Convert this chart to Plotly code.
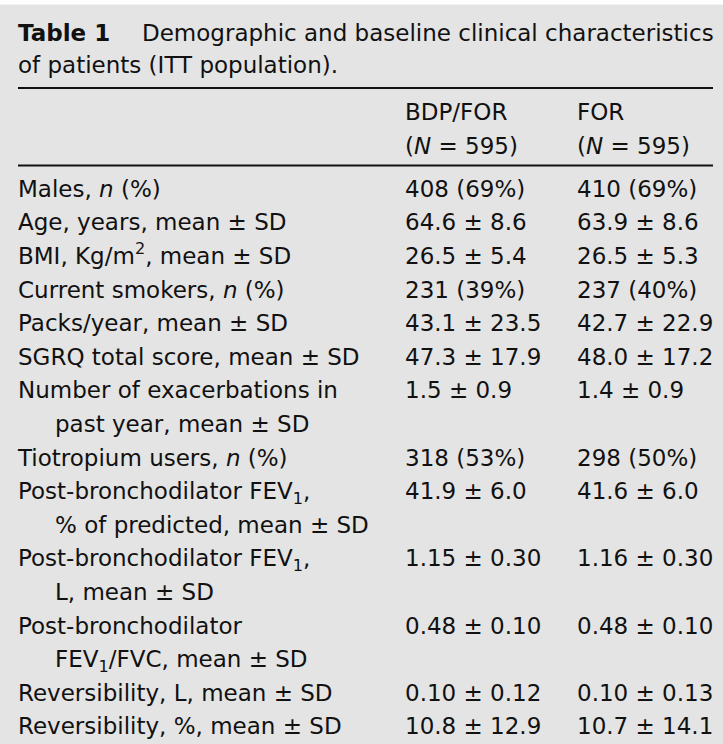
import plotly.graph_objects as go

# ---- data -------------------------------------------------------------
title_label = "Table 1"
title_text = "Demographic and baseline clinical characteristics"
title_line2 = "of patients (ITT population)."

group_names = ["BDP/FOR", "FOR"]
group_n = [595, 595]

# each characteristic: (first line, continuation line or None)
characteristics = [
    ("Males, <i>n</i> (%)", None),
    ("Age, years, mean ± SD", None),
    ("BMI, Kg/m<sup>2</sup>, mean ± SD", None),
    ("Current smokers, <i>n</i> (%)", None),
    ("Packs/year, mean ± SD", None),
    ("SGRQ total score, mean ± SD", None),
    ("Number of exacerbations in", "past year, mean ± SD"),
    ("Tiotropium users, <i>n</i> (%)", None),
    ("Post-bronchodilator FEV<sub>1</sub>,", "% of predicted, mean ± SD"),
    ("Post-bronchodilator FEV<sub>1</sub>,", "L, mean ± SD"),
    ("Post-bronchodilator", "FEV<sub>1</sub>/FVC, mean ± SD"),
    ("Reversibility, L, mean ± SD", None),
    ("Reversibility, %, mean ± SD", None),
]

bdp_for_values = ["408 (69%)", "64.6 ± 8.6", "26.5 ± 5.4", "231 (39%)",
                  "43.1 ± 23.5", "47.3 ± 17.9", "1.5 ± 0.9", "318 (53%)",
                  "41.9 ± 6.0", "1.15 ± 0.30", "0.48 ± 0.10", "0.10 ± 0.12",
                  "10.8 ± 12.9"]
for_values = ["410 (69%)", "63.9 ± 8.6", "26.5 ± 5.3", "237 (40%)",
              "42.7 ± 22.9", "48.0 ± 17.2", "1.4 ± 0.9", "298 (50%)",
              "41.6 ± 6.0", "1.16 ± 0.30", "0.48 ± 0.10", "0.10 ± 0.13",
              "10.7 ± 14.1"]

# ---- layout constants ---------------------------------------------------
W, H = 723, 744
FONT = "DejaVu Sans"
FS = 23
INK = "#111111"
BG = "#e4e4e4"
X_LABEL, X_INDENT, X_COL2, X_COL3 = 18, 55, 405, 577
Y_FIRST, ROW_STEP = 191, 33.6

# build text lines
lab_x, lab_y, lab_t = [], [], []
val_y = []
line = 0
for first, cont in characteristics:
    y = Y_FIRST + line * ROW_STEP
    lab_x.append(X_LABEL); lab_y.append(y); lab_t.append(first)
    val_y.append(y)
    line += 1
    if cont:
        lab_x.append(X_INDENT); lab_y.append(Y_FIRST + line * ROW_STEP); lab_t.append(cont)
        line += 1

fig = go.Figure()

def text_trace(xs, ys, ts, size=FS):
    fig.add_trace(go.Scatter(
        x=xs, y=ys, text=ts, mode="text", textposition="middle right",
        textfont=dict(family=FONT, size=size, color=INK),
        hoverinfo="skip", showlegend=False, cliponaxis=False))

# title
text_trace([X_LABEL], [35], ["<b>" + title_label + "</b>"])
text_trace([142], [35], [title_text])
text_trace([X_LABEL], [67.5], [title_line2])

# header
text_trace([X_COL2, X_COL3], [114, 114], group_names)
text_trace([X_COL2, X_COL3], [148, 148], ["(<i>N</i> = %d)" % n for n in group_n])

# body
text_trace(lab_x, lab_y, lab_t)
text_trace([X_COL2] * len(val_y), val_y, bdp_for_values)
text_trace([X_COL3] * len(val_y), val_y, for_values)

shapes = [
    dict(type="rect", xref="x", yref="y", x0=0, x1=W, y0=0, y1=4.5,
         fillcolor="white", line=dict(width=0), layer="below"),
    dict(type="line", xref="x", yref="y", x0=18, x1=713, y0=88, y1=88,
         line=dict(color=INK, width=2)),
    dict(type="line", xref="x", yref="y", x0=18, x1=713, y0=165.5, y1=165.5,
         line=dict(color=INK, width=2)),
]

fig.update_layout(
    width=W, height=H, margin=dict(l=0, r=0, t=0, b=0),
    paper_bgcolor=BG, plot_bgcolor=BG,
    xaxis=dict(range=[0, W], visible=False, fixedrange=True),
    yaxis=dict(range=[H, 0], visible=False, fixedrange=True),
    shapes=shapes,
)

fig.write_html(
    "out.html",
    config={"displayModeBar": False},
    post_script="document.body.style.margin='0';document.body.style.overflow='hidden';",
)
